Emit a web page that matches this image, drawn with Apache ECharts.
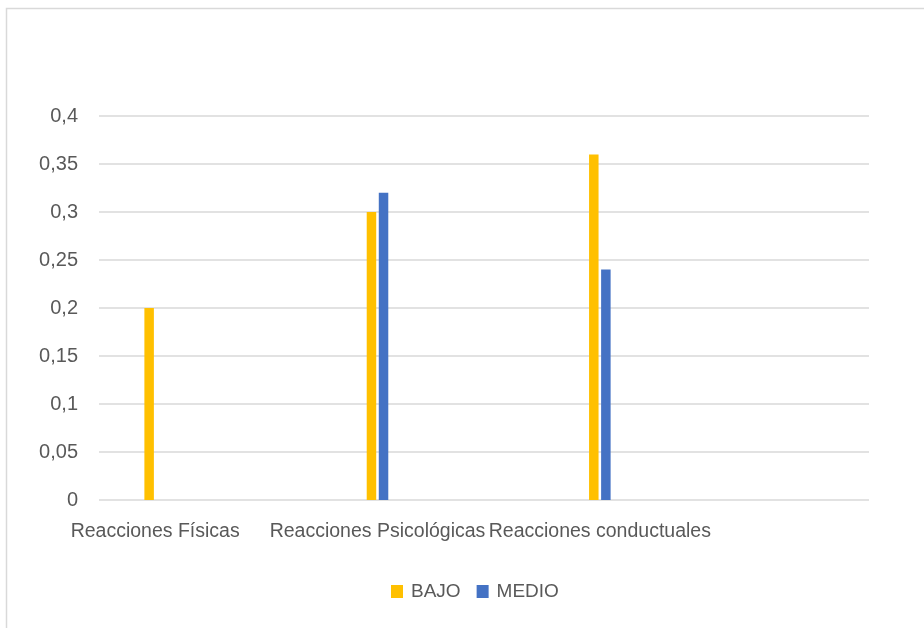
<!DOCTYPE html>
<html>
<head>
<meta charset="utf-8">
<script src="https://cdn.jsdelivr.net/npm/echarts@6/dist/echarts.min.js"></script>
<style>
  html, body { margin: 0; padding: 0; background: #ffffff; }
  #chart { width: 924px; height: 628px; }
</style>
</head>
<body>
<div id="chart"></div>
<script>
// Categories and series values
const categories = ['Reacciones Físicas', 'Reacciones Psicológicas', 'Reacciones conductuales'];
const seriesNames = ['BAJO', 'MEDIO'];
const bajoValues = [0.2, 0.3, 0.36];
const medioValues = [0, 0.32, 0.24];
const yTicks = { min: 0, max: 0.4, step: 0.05 };

const textColor = '#595959';
const gridColor = '#d9d9d9';
const fontFamily = '"Liberation Sans", Arial, sans-serif';

const chart = echarts.init(document.getElementById('chart'), null, { renderer: 'canvas' });

chart.setOption({
  animation: false,
  backgroundColor: '#ffffff',
  color: ['#ffc000', '#4472c4'],
  textStyle: { fontFamily: fontFamily },
  graphic: [{
    type: 'rect',
    shape: { x: 6.5, y: 8.5, width: 1000, height: 1000 },
    style: { fill: 'none', stroke: gridColor, lineWidth: 1.5 },
    silent: true
  }],
  legend: {
    data: seriesNames,
    left: 386,
    top: 577,
    itemWidth: 12,
    itemHeight: 13,
    itemGap: 16,
    icon: 'rect',
    textStyle: { color: textColor, fontSize: 19, fontFamily: fontFamily, padding: [0, 0, 0, 3] }
  },
  grid: [
    // value scale with tick labels and gridlines
    { left: 99, right: 55, top: 116, bottom: 128, containLabel: false },
    // bar area
    { left: 44, width: 667, top: 116, bottom: 128, containLabel: false }
  ],
  xAxis: [
    { gridIndex: 0, type: 'category', data: categories, show: false },
    {
      gridIndex: 1,
      type: 'category',
      data: categories,
      axisLine: { show: false },
      axisTick: { show: false },
      axisLabel: { color: textColor, fontSize: 19.5, margin: 22, interval: 0, fontFamily: fontFamily }
    }
  ],
  yAxis: [
    {
      gridIndex: 0,
      type: 'value',
      min: yTicks.min,
      max: yTicks.max,
      interval: yTicks.step,
      axisLine: { show: false },
      axisTick: { show: false },
      splitLine: { lineStyle: { color: gridColor, width: 1.5 } },
      axisLabel: {
        color: textColor,
        fontSize: 20,
        margin: 21,
        fontFamily: fontFamily,
        formatter: v => String(Math.round(v * 100) / 100).replace('.', ',')
      }
    },
    {
      gridIndex: 1,
      type: 'value',
      min: yTicks.min,
      max: yTicks.max,
      interval: yTicks.step,
      show: false
    }
  ],
  series: [
    {
      name: seriesNames[0],
      type: 'bar',
      xAxisIndex: 1,
      yAxisIndex: 1,
      data: bajoValues,
      barWidth: 9.5,
      barGap: '27%'
    },
    {
      name: seriesNames[1],
      type: 'bar',
      xAxisIndex: 1,
      yAxisIndex: 1,
      data: medioValues,
      barWidth: 9.5,
      barGap: '27%'
    }
  ]
});
</script>
</body>
</html>
